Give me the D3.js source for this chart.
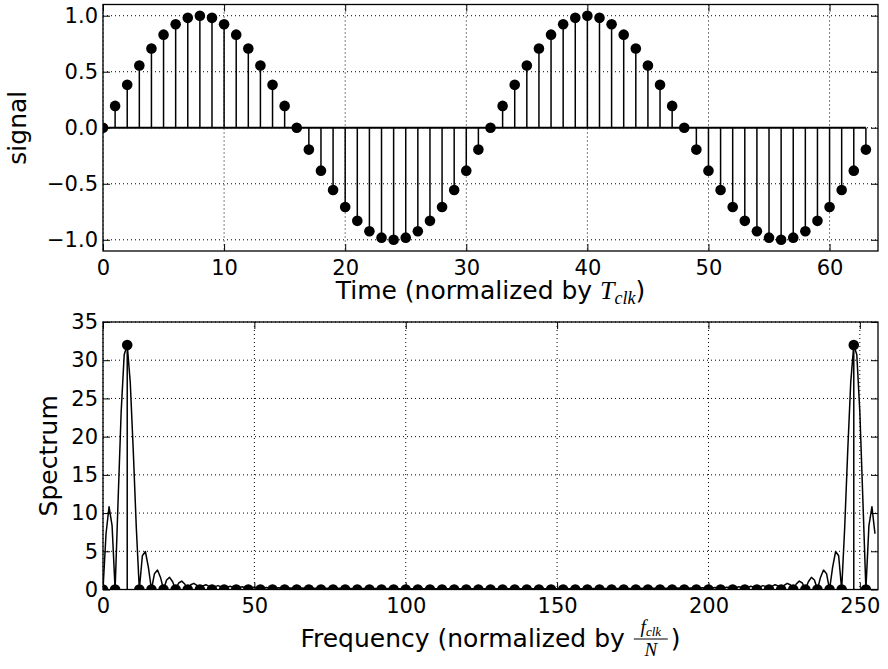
<!DOCTYPE html>
<html>
<head>
<meta charset="utf-8">
<script src="https://cdn.jsdelivr.net/npm/d3@7"></script>
<style>
  body { margin: 0; background: #fff; }
  svg { display: block; }
  .tick text { font-family: "DejaVu Sans", sans-serif; font-size: 21px; fill: #000; }
  .tick line { stroke: #000; stroke-width: 1; }
  .lbl { font-family: "DejaVu Sans", sans-serif; font-size: 25px; fill: #000; }
  .math { font-family: "Liberation Serif", serif; font-style: italic; }
</style>
</head>
<body>
<svg id="chart" width="888" height="669"></svg>
<script>
// top panel: sampled sine, 64 samples
const signalValues = [
  0, 0.195, 0.383, 0.556, 0.707, 0.831, 0.924, 0.981,
  1.0, 0.981, 0.924, 0.831, 0.707, 0.556, 0.383, 0.195,
  0, -0.195, -0.383, -0.556, -0.707, -0.831, -0.924, -0.981,
  -1.0, -0.981, -0.924, -0.831, -0.707, -0.556, -0.383, -0.195,
  0, 0.195, 0.383, 0.556, 0.707, 0.831, 0.924, 0.981,
  1.0, 0.981, 0.924, 0.831, 0.707, 0.556, 0.383, 0.195,
  0, -0.195, -0.383, -0.556, -0.707, -0.831, -0.924, -0.981,
  -1.0, -0.981, -0.924, -0.831, -0.707, -0.556, -0.383, -0.195
];

// bottom panel: 256-point spectrum curve (one value per bin)
const spectrumCurve = [
  0, 7.29, 10.83, 8.36, 0, 11.80, 23.25, 30.71,
  32, 27.14, 18.14, 8.11, 0, 4.41, 4.97, 2.89,
  0, 2.07, 2.54, 1.58, 0, 1.25, 1.59, 1.02,
  0, 0.85, 1.10, 0.72, 0, 0.62, 0.81, 0.54,
  0, 0.47, 0.63, 0.42, 0, 0.38, 0.51, 0.34,
  0, 0.31, 0.42, 0.28, 0, 0.26, 0.35, 0.24,
  0, 0.22, 0.30, 0.21, 0, 0.19, 0.26, 0.18,
  0, 0.17, 0.23, 0.16, 0, 0.15, 0.21, 0.14,
  0, 0.14, 0.19, 0.13, 0, 0.13, 0.17, 0.12,
  0, 0.12, 0.16, 0.11, 0, 0.11, 0.15, 0.10,
  0, 0.10, 0.14, 0.10, 0, 0.09, 0.13, 0.09,
  0, 0.09, 0.12, 0.09, 0, 0.08, 0.12, 0.08,
  0, 0.08, 0.11, 0.08, 0, 0.08, 0.11, 0.08,
  0, 0.08, 0.11, 0.07, 0, 0.07, 0.10, 0.07,
  0, 0.07, 0.10, 0.07, 0, 0.07, 0.10, 0.07,
  0, 0.07, 0.10, 0.07, 0, 0.07, 0.10, 0.07,
  0, 0.07, 0.10, 0.07, 0, 0.07, 0.10, 0.07,
  0, 0.07, 0.10, 0.07, 0, 0.07, 0.10, 0.07,
  0, 0.07, 0.10, 0.07, 0, 0.07, 0.11, 0.08,
  0, 0.08, 0.11, 0.08, 0, 0.08, 0.11, 0.08,
  0, 0.08, 0.12, 0.08, 0, 0.09, 0.12, 0.09,
  0, 0.09, 0.13, 0.09, 0, 0.10, 0.14, 0.10,
  0, 0.10, 0.15, 0.11, 0, 0.11, 0.16, 0.12,
  0, 0.12, 0.17, 0.13, 0, 0.13, 0.19, 0.14,
  0, 0.14, 0.21, 0.15, 0, 0.16, 0.23, 0.17,
  0, 0.18, 0.26, 0.19, 0, 0.21, 0.30, 0.22,
  0, 0.24, 0.35, 0.26, 0, 0.28, 0.42, 0.31,
  0, 0.34, 0.51, 0.38, 0, 0.42, 0.63, 0.47,
  0, 0.54, 0.81, 0.62, 0, 0.72, 1.10, 0.85,
  0, 1.02, 1.59, 1.25, 0, 1.58, 2.54, 2.07,
  0, 2.89, 4.97, 4.41, 0, 8.11, 18.14, 27.14,
  32, 30.71, 23.25, 11.80, 0, 8.36, 10.83, 7.29
];

// bottom panel: stems at every 4th bin
const stemBins = [
  0, 4, 8, 12, 16, 20, 24, 28, 32, 36, 40, 44, 48, 52, 56, 60,
  64, 68, 72, 76, 80, 84, 88, 92, 96, 100, 104, 108, 112, 116, 120, 124,
  128, 132, 136, 140, 144, 148, 152, 156, 160, 164, 168, 172, 176, 180, 184, 188,
  192, 196, 200, 204, 208, 212, 216, 220, 224, 228, 232, 236, 240, 244, 248, 252
];
const stemValues = [
  0, 0, 32, 0, 0, 0, 0, 0,  0, 0, 0, 0, 0, 0, 0, 0,
  0, 0, 0, 0, 0, 0, 0, 0,  0, 0, 0, 0, 0, 0, 0, 0,
  0, 0, 0, 0, 0, 0, 0, 0,  0, 0, 0, 0, 0, 0, 0, 0,
  0, 0, 0, 0, 0, 0, 0, 0,  0, 0, 0, 0, 0, 0, 32, 0
];

const timeTicks = [0, 10, 20, 30, 40, 50, 60];
const signalTicks = [-1.0, -0.5, 0.0, 0.5, 1.0];
const freqTicks = [0, 50, 100, 150, 200, 250];
const spectrumTicks = [0, 5, 10, 15, 20, 25, 30, 35];

const svg = d3.select("#chart");
const left = 103, right = 878;
const fmt1 = d => d3.format(".1f")(d).replace("-", "\u2212");

function makePanel(id, top, bottom, xDomain, yDomain, xTicks, yTicks, yFmt) {
  const x = d3.scaleLinear().domain(xDomain).range([left, right]);
  const y = d3.scaleLinear().domain(yDomain).range([bottom, top]);
  const g = svg.append("g");

  svg.append("clipPath").attr("id", id)
    .append("rect")
    .attr("x", left).attr("y", top)
    .attr("width", right - left).attr("height", bottom - top);

  // dotted grid
  g.selectAll(".gx").data(xTicks).enter().append("line")
    .attr("x1", d => x(d)).attr("x2", d => x(d))
    .attr("y1", top).attr("y2", bottom)
    .attr("stroke", "#000").attr("stroke-width", 1)
    .attr("stroke-dasharray", "1,3");
  g.selectAll(".gy").data(yTicks).enter().append("line")
    .attr("x1", left).attr("x2", right)
    .attr("y1", d => y(d)).attr("y2", d => y(d))
    .attr("stroke", "#000").attr("stroke-width", 1)
    .attr("stroke-dasharray", "1,3");

  const plot = g.append("g").attr("clip-path", `url(#${id})`);

  // axes with inward ticks on all four sides
  const ax = svg.append("g");
  ax.append("g").attr("transform", `translate(0,${bottom})`)
    .call(d3.axisBottom(x).tickValues(xTicks).tickSize(-7).tickPadding(9).tickFormat(d3.format("d")));
  ax.append("g").attr("transform", `translate(0,${top})`)
    .call(d3.axisTop(x).tickValues(xTicks).tickSize(-7).tickFormat(""));
  ax.append("g").attr("transform", `translate(${left},0)`)
    .call(d3.axisLeft(y).tickValues(yTicks).tickSize(-7).tickPadding(5).tickFormat(yFmt));
  ax.append("g").attr("transform", `translate(${right},0)`)
    .call(d3.axisRight(y).tickValues(yTicks).tickSize(-7).tickFormat(""));
  ax.selectAll(".domain").remove();

  return { x, y, plot, ax, top, bottom };
}

// ---- top: signal stem plot
const p1 = makePanel("clipTop", 4.5, 251, [0, 64], [-1.1, 1.1], timeTicks, signalTicks, fmt1);

p1.plot.selectAll(".stem").data(signalValues).enter().append("line")
  .attr("x1", (d, i) => p1.x(i)).attr("x2", (d, i) => p1.x(i))
  .attr("y1", p1.y(0)).attr("y2", d => p1.y(d))
  .attr("stroke", "#000").attr("stroke-width", 1.5);
p1.plot.append("line")
  .attr("x1", p1.x(0)).attr("x2", p1.x(signalValues.length - 1))
  .attr("y1", p1.y(0)).attr("y2", p1.y(0))
  .attr("stroke", "#000").attr("stroke-width", 1.8);
p1.plot.selectAll(".dot").data(signalValues).enter().append("circle")
  .attr("cx", (d, i) => p1.x(i)).attr("cy", d => p1.y(d))
  .attr("r", 5.3).attr("fill", "#000");

// ---- bottom: spectrum
const p2 = makePanel("clipBot", 322, 589.5, [0, 256], [0, 35], freqTicks, spectrumTicks, d3.format("d"));

p2.plot.append("path")
  .datum(spectrumCurve)
  .attr("d", d3.line().x((d, i) => p2.x(i)).y(d => p2.y(d)))
  .attr("fill", "none").attr("stroke", "#000").attr("stroke-width", 1.5)
  .attr("stroke-linejoin", "round");
p2.plot.selectAll(".stem").data(stemValues).enter().append("line")
  .attr("x1", (d, i) => p2.x(stemBins[i])).attr("x2", (d, i) => p2.x(stemBins[i]))
  .attr("y1", p2.y(0)).attr("y2", d => p2.y(d))
  .attr("stroke", "#000").attr("stroke-width", 1.5);
p2.plot.selectAll(".dot").data(stemValues).enter().append("circle")
  .attr("cx", (d, i) => p2.x(stemBins[i])).attr("cy", d => p2.y(d))
  .attr("r", 5.3).attr("fill", "#000");

// frames on top
[p1, p2].forEach(p => {
  svg.append("rect")
    .attr("x", left).attr("y", p.top)
    .attr("width", right - left).attr("height", p.bottom - p.top)
    .attr("fill", "none").attr("stroke", "#000").attr("stroke-width", 1.3);
});

// ---- labels
svg.append("text").attr("class", "lbl")
  .attr("transform", "translate(26,127.7) rotate(-90)")
  .attr("text-anchor", "middle").text("signal");
svg.append("text").attr("class", "lbl")
  .attr("transform", "translate(57,455.8) rotate(-90)")
  .attr("text-anchor", "middle").text("Spectrum");

const tl = svg.append("text").attr("class", "lbl")
  .attr("x", 490.5).attr("y", 299).attr("text-anchor", "middle");
tl.append("tspan").text("Time (normalized by ");
tl.append("tspan").attr("class", "math").attr("font-size", 26).text("T");
tl.append("tspan").attr("class", "math").attr("font-size", 18).attr("dy", 5).text("clk");
tl.append("tspan").attr("dy", -5).text(")");

// frequency label with a small fraction
const fg = svg.append("g");
const base = 647;
const ft = fg.append("text").attr("class", "lbl").attr("x", 0).attr("y", base)
  .text("Frequency (normalized by");
const w1 = ft.node().getComputedTextLength();
const fracX = w1 + 9, fracW = 34;
const num = fg.append("text").attr("class", "math").attr("y", base - 14)
  .attr("x", fracX + fracW / 2).attr("text-anchor", "middle");
num.append("tspan").attr("font-size", 19).text("f");
num.append("tspan").attr("font-size", 13).attr("dy", 3).text("clk");
fg.append("line")
  .attr("x1", fracX).attr("x2", fracX + fracW)
  .attr("y1", base - 8).attr("y2", base - 8)
  .attr("stroke", "#000").attr("stroke-width", 1);
fg.append("text").attr("class", "math").attr("font-size", 19)
  .attr("x", fracX + fracW / 2).attr("y", base + 9).attr("text-anchor", "middle").text("N");
fg.append("text").attr("class", "lbl").attr("x", fracX + fracW + 3).attr("y", base).text(")");
const bb = fg.node().getBBox();
fg.attr("transform", `translate(${490.5 - (bb.x + bb.width / 2)},0)`);
</script>
</body>
</html>
